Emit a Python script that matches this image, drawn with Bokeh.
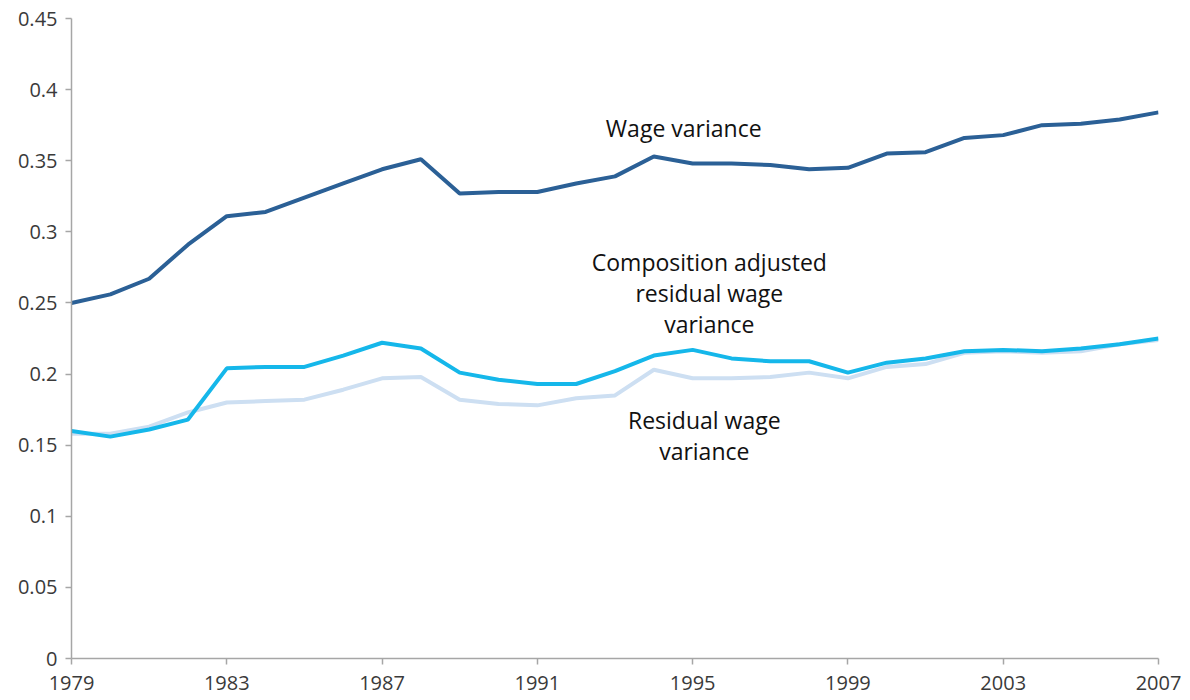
from bokeh.plotting import figure
from bokeh.models import FixedTicker, Range1d, Label
from bokeh.embed import file_html
from bokeh.resources import INLINE

years = list(range(1979, 2008))

wage_variance = [0.250, 0.256, 0.267, 0.291, 0.311, 0.314, 0.324, 0.334, 0.344, 0.351,
                 0.327, 0.328, 0.328, 0.334, 0.339, 0.353, 0.348, 0.348, 0.347, 0.344,
                 0.345, 0.355, 0.356, 0.366, 0.368, 0.375, 0.376, 0.379, 0.384]

comp_adjusted = [0.160, 0.156, 0.161, 0.168, 0.204, 0.205, 0.205, 0.213, 0.222, 0.218,
                 0.201, 0.196, 0.193, 0.193, 0.202, 0.213, 0.217, 0.211, 0.209, 0.209,
                 0.201, 0.208, 0.211, 0.216, 0.217, 0.216, 0.218, 0.221, 0.225]

residual = [0.158, 0.158, 0.163, 0.173, 0.180, 0.181, 0.182, 0.189, 0.197, 0.198,
            0.182, 0.179, 0.178, 0.183, 0.185, 0.203, 0.197, 0.197, 0.198, 0.201,
            0.197, 0.205, 0.207, 0.215, 0.216, 0.215, 0.216, 0.221, 0.224]

x_ticks = [1979, 1983, 1987, 1991, 1995, 1999, 2003, 2007]
x_labels = ["1979", "1983", "1987", "1991", "1995", "1999", "2003", "2007"]
y_ticks = [0, 0.05, 0.1, 0.15, 0.2, 0.25, 0.3, 0.35, 0.4, 0.45]
y_labels = ["0", "0.05", "0.1", "0.15", "0.2", "0.25", "0.3", "0.35", "0.4", "0.45"]

label_wage = ["Wage variance"]
label_comp = ["Composition adjusted", "residual wage", "variance"]
label_resid = ["Residual wage", "variance"]

FONT = "Open Sans"

p = figure(width=1182, height=700, output_backend="svg", toolbar_location=None,
           x_range=Range1d(1979, 2007), y_range=Range1d(0, 0.45),
           min_border_left=71, min_border_right=24, min_border_top=18, min_border_bottom=42)
p.outline_line_color = None
p.grid.grid_line_color = None
p.background_fill_color = "white"
p.border_fill_color = "white"

p.line(years, residual, line_color="#cddff2", line_width=4)
p.line(years, comp_adjusted, line_color="#15b7ea", line_width=4)
p.line(years, wage_variance, line_color="#2b6096", line_width=4)

for ax in (p.xaxis[0], p.yaxis[0]):
    ax.axis_line_color = "#a6a6a6"
    ax.axis_line_width = 1.5
    ax.major_tick_line_color = "#a6a6a6"
    ax.major_tick_line_width = 1.5
    ax.major_tick_in = 0
    ax.major_tick_out = 6
    ax.minor_tick_line_color = None
    ax.major_label_text_font = FONT
    ax.major_label_text_font_size = "20px"
    ax.major_label_text_color = "#3a3a3a"

p.xaxis.ticker = FixedTicker(ticks=x_ticks)
p.xaxis.major_label_overrides = dict(zip(x_ticks, x_labels))
p.xaxis.major_label_standoff = 11
p.yaxis.ticker = FixedTicker(ticks=y_ticks)
p.yaxis.major_label_overrides = dict(zip(y_ticks, y_labels))
p.yaxis.major_label_standoff = 8

def add_labels(lines, x, y0, dy):
    for i, t in enumerate(lines):
        p.add_layout(Label(x=x, y=y0 - i * dy, text=t, text_align="center",
                           text_baseline="middle", text_font=FONT,
                           text_font_size="23px", text_color="#111111"))

add_labels(label_wage, 1994.77, 0.3727, 0.0218)
add_labels(label_comp, 1995.43, 0.2785, 0.0218)
add_labels(label_resid, 1995.3, 0.168, 0.0218)

open("out.html", "w").write(file_html(p, INLINE))
